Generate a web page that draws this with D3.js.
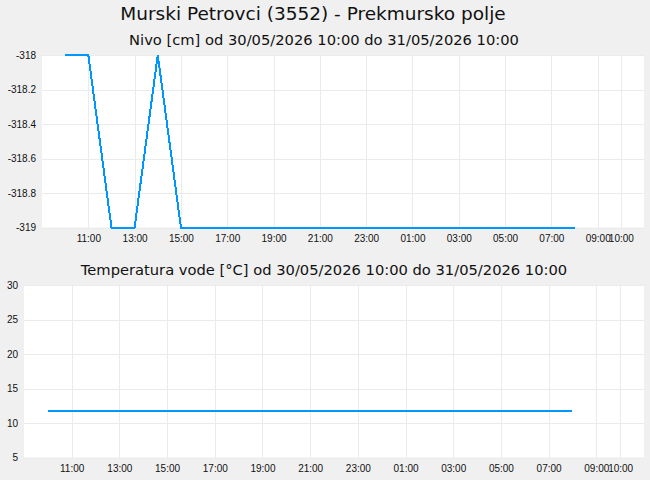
<!DOCTYPE html>
<html>
<head>
<meta charset="utf-8">
<script src="https://cdn.jsdelivr.net/npm/d3@7"></script>
<style>
	body { margin: 0; background: #f0f0f0; }
	svg { display: block; font-family: "DejaVu Sans", sans-serif; }
	.grid line { stroke: #ebebeb; stroke-width: 1; shape-rendering: crispEdges; }
	.grid .domain { display: none; }
	.grid text { fill: #111; font-size: 10px; }
</style>
</head>
<body>
<svg id="chart" width="650" height="480"></svg>
<script>
const stationTitle = "Murski Petrovci (3552) - Prekmursko polje";
const levelTitle = "Nivo [cm] od 30/05/2026 10:00 do 31/05/2026 10:00";
const tempTitle = "Temperatura vode [°C] od 30/05/2026 10:00 do 31/05/2026 10:00";

const domainTimes = ["2026-05-30T09:00", "2026-05-31T11:00"];
const tickTimes = [
	"2026-05-30T11:00", "2026-05-30T13:00", "2026-05-30T15:00", "2026-05-30T17:00",
	"2026-05-30T19:00", "2026-05-30T21:00", "2026-05-30T23:00", "2026-05-31T01:00",
	"2026-05-31T03:00", "2026-05-31T05:00", "2026-05-31T07:00", "2026-05-31T09:00",
	"2026-05-31T10:00"
];

const levelTimes = [
	"2026-05-30T10:00", "2026-05-30T11:00", "2026-05-30T12:00", "2026-05-30T13:00",
	"2026-05-30T14:00", "2026-05-30T15:00", "2026-05-31T08:00"
];
const levelValues = [-318, -318, -319, -319, -318, -319, -319];
const levelTicks = ["-318", "-318.2", "-318.4", "-318.6", "-318.8", "-319"];

const tempTimes = ["2026-05-30T10:00", "2026-05-31T08:00"];
const tempValues = [11.7, 11.7];
const tempTicks = ["5", "10", "15", "20", "25", "30"];

const parse = d3.timeParse("%Y-%m-%dT%H:%M");
const svg = d3.select("#chart");

svg.append("text")
	.attr("x", 313).attr("y", 20)
	.attr("text-anchor", "middle")
	.style("font-size", "18.5px")
	.attr("fill", "#111")
	.text(stationTitle);

function panel(opts) {
	const { left, right, top, bottom, title, titleY, times, values, yDomain, yTicks, lineWidth } = opts;
	const x = d3.scaleTime()
		.domain(domainTimes.map(parse))
		.range([left, right]);
	const y = d3.scaleLinear()
		.domain(yDomain)
		.range([bottom, top]);

	svg.append("rect")
		.attr("x", left).attr("y", top)
		.attr("width", right - left).attr("height", bottom - top)
		.attr("fill", "#fff");

	svg.append("text")
		.attr("x", 324).attr("y", titleY)
		.attr("text-anchor", "middle")
		.style("font-size", "14.7px")
		.attr("fill", "#111")
		.text(title);

	// vertical grid + time labels
	svg.append("g")
		.attr("class", "grid")
		.attr("transform", `translate(0,${bottom})`)
		.call(d3.axisBottom(x)
			.tickValues(tickTimes.map(parse))
			.tickFormat(d3.timeFormat("%H:%M"))
			.tickSizeInner(-(bottom - top))
			.tickSizeOuter(0)
			.tickPadding(7));

	// horizontal grid + value labels (labels kept as plain hyphen strings)
	svg.append("g")
		.attr("class", "grid")
		.attr("transform", `translate(${left},0)`)
		.call(d3.axisLeft(y)
			.tickValues(yTicks.map(Number))
			.tickFormat((d, i) => yTicks[i])
			.tickSizeInner(-(right - left))
			.tickSizeOuter(0)
			.tickPadding(6));

	const pts = times.map((t, i) => [parse(t), values[i]]);
	svg.append("path")
		.datum(pts)
		.attr("fill", "none")
		.attr("stroke", "#0096ff")
		.attr("stroke-width", lineWidth)
		.attr("shape-rendering", "crispEdges")
		.attr("d", d3.line().x((d) => x(d[0])).y((d) => y(d[1])));
}

panel({
	left: 42, right: 644, top: 55, bottom: 227.5,
	title: levelTitle, titleY: 45,
	times: levelTimes, values: levelValues,
	yDomain: [-319, -318], yTicks: levelTicks,
	lineWidth: 2
});

panel({
	left: 24, right: 644, top: 285, bottom: 457.5,
	title: tempTitle, titleY: 275,
	times: tempTimes, values: tempValues,
	yDomain: [5, 30], yTicks: tempTicks,
	lineWidth: 2
});
</script>
</body>
</html>
